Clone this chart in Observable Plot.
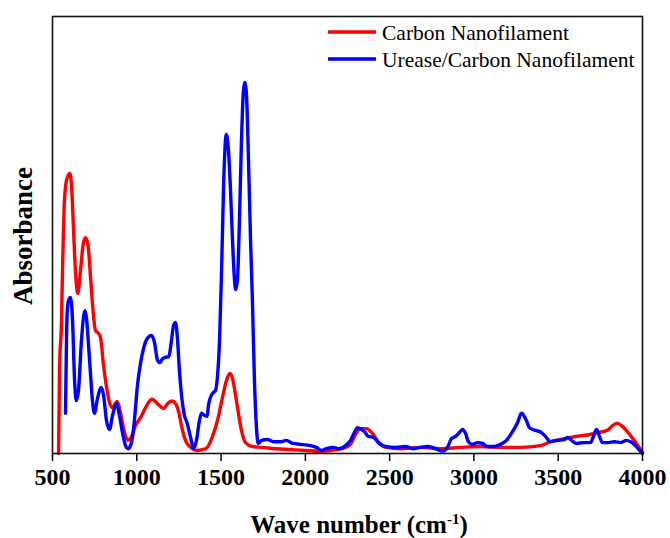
<!DOCTYPE html>
<html><head><meta charset="utf-8">
<script src="https://cdn.jsdelivr.net/npm/d3@7"></script>
<script src="https://cdn.jsdelivr.net/npm/@observablehq/plot@0.6"></script>
<style>
body{margin:0;background:#fff;}
#chart{position:relative;width:670px;height:538px;}
</style>
</head><body><div id="chart"></div>
<script>
const seriesNames = ["Carbon Nanofilament", "Urease/Carbon Nanofilament"];
const seriesColors = ["#ff0000", "#0000ff"];
const xTicks = [500, 1000, 1500, 2000, 2500, 3000, 3500, 4000];
const xLabel = "Wave number (cm";
const xLabelSup = "-1";
const yLabel = "Absorbance";

const cnfWave = [536,542,553,559,571,583,603,613,625,636,650,666,684,696,711,725,743,755,773,785,803,824,838,854,884,903,927,947,969,992,1022,1052,1091,1123,1160,1182,1210,1230,1247,1265,1289,1319,1354,1390,1418,1449,1479,1508,1532,1552,1568,1586,1603,1621,1645,1686,1746,1823,1912,2001,2078,2149,2220,2268,2297,2327,2362,2398,2434,2481,2564,2683,2802,2920,3039,3158,3276,3395,3454,3513,3602,3680,3739,3792,3822,3852,3881,3929,3964,4000];
const cnfAbs = [0,0.197,0.297,0.412,0.579,0.625,0.641,0.613,0.510,0.419,0.366,0.419,0.483,0.494,0.476,0.407,0.316,0.281,0.275,0.265,0.201,0.144,0.117,0.105,0.119,0.094,0.048,0.030,0.039,0.064,0.082,0.105,0.124,0.114,0.103,0.114,0.120,0.114,0.098,0.064,0.030,0.014,0.007,0.009,0.014,0.039,0.076,0.128,0.167,0.183,0.172,0.133,0.092,0.053,0.025,0.016,0.014,0.011,0.009,0.007,0.005,0.007,0.011,0.021,0.043,0.057,0.057,0.046,0.025,0.014,0.011,0.014,0.011,0.014,0.016,0.014,0.014,0.018,0.027,0.032,0.039,0.043,0.048,0.053,0.064,0.069,0.062,0.041,0.023,0.002];

const ureWave = [577,583,587,595,607,619,631,641,654,672,692,702,714,725,737,749,767,789,803,820,838,856,880,897,915,933,949,969,986,1004,1022,1040,1062,1087,1105,1123,1137,1153,1170,1190,1206,1218,1230,1242,1253,1269,1283,1299,1319,1338,1354,1372,1384,1402,1418,1425,1437,1455,1467,1479,1491,1503,1515,1531,1544,1556,1568,1580,1587,1597,1609,1621,1633,1641,1651,1663,1675,1686,1698,1710,1720,1740,1775,1811,1853,1888,1924,1971,2030,2066,2096,2125,2167,2197,2232,2268,2291,2309,2333,2351,2374,2404,2434,2475,2535,2594,2642,2683,2730,2772,2814,2843,2867,2891,2914,2932,2950,2967,2991,3021,3051,3080,3122,3158,3193,3229,3259,3282,3306,3330,3365,3401,3425,3454,3496,3537,3555,3579,3608,3650,3691,3709,3727,3745,3763,3798,3834,3869,3905,3929,3958,3988,4000];
const ureAbs = [0.092,0.259,0.320,0.350,0.357,0.304,0.167,0.121,0.144,0.259,0.327,0.309,0.247,0.185,0.121,0.092,0.126,0.151,0.133,0.076,0.055,0.087,0.114,0.087,0.048,0.018,0.011,0.025,0.076,0.156,0.206,0.240,0.263,0.270,0.254,0.213,0.208,0.217,0.220,0.222,0.259,0.293,0.300,0.259,0.190,0.121,0.087,0.069,0.037,0.011,0.030,0.076,0.092,0.087,0.085,0.110,0.128,0.140,0.144,0.178,0.259,0.419,0.613,0.730,0.693,0.602,0.487,0.396,0.375,0.396,0.533,0.716,0.831,0.849,0.819,0.668,0.487,0.350,0.167,0.059,0.023,0.030,0.032,0.027,0.027,0.030,0.023,0.021,0.018,0.014,0.007,0.011,0.014,0.011,0.016,0.030,0.048,0.059,0.055,0.050,0.039,0.037,0.025,0.016,0.014,0.016,0.011,0.014,0.016,0.011,0.005,0.014,0.034,0.039,0.048,0.055,0.046,0.027,0.021,0.025,0.023,0.016,0.016,0.021,0.030,0.050,0.071,0.092,0.080,0.059,0.053,0.048,0.039,0.027,0.030,0.032,0.037,0.030,0.023,0.025,0.025,0.039,0.055,0.039,0.025,0.025,0.027,0.025,0.030,0.027,0.018,0.005,0];

const cnf = cnfWave.map((w, i) => ({wave: w, abs: cnfAbs[i]}));
const ure = ureWave.map((w, i) => ({wave: w, abs: ureAbs[i]}));

const W = 670, H = 538;
const mLeft = 52, mRight = 28, mTop = 16, mBottom = 85;

const plot = Plot.plot({
  width: W, height: H,
  marginLeft: mLeft, marginRight: mRight, marginTop: mTop, marginBottom: mBottom,
  style: {fontFamily: "'Liberation Serif', 'Times New Roman', serif", fontSize: "24px", fontWeight: "bold", color: "#000", background: "#fff"},
  x: {domain: [500, 4000], ticks: xTicks, label: null},
  y: {domain: [0, 1], axis: null},
  marks: [
    Plot.line(cnf, {x: "wave", y: "abs", stroke: seriesColors[0], strokeWidth: 3.4, curve: "monotone-x"}),
    Plot.line(ure, {x: "wave", y: "abs", stroke: seriesColors[1], strokeWidth: 3.4, curve: "monotone-x"}),
    Plot.axisX({ticks: xTicks, tickSize: 8, tickPadding: 6, strokeWidth: 1.5, tickFormat: d => String(d), label: null}),
    Plot.frame({stroke: "#111", strokeWidth: 1.6})
  ]
});
document.getElementById("chart").appendChild(plot);

const svg = d3.select(plot);
// x axis title
const xt = svg.append("text")
  .attr("x", 359).attr("y", 533)
  .attr("text-anchor", "middle")
  .style("font-size", "25px").style("font-weight", "bold")
  .style("font-family", "'Liberation Serif', serif");
xt.append("tspan").text(xLabel);
xt.append("tspan").attr("dy", -9).style("font-size", "15px").text(xLabelSup);
xt.append("tspan").attr("dy", 9).text(")");

// y axis title
svg.append("text")
  .attr("transform", "translate(32,236) rotate(-90)")
  .attr("text-anchor", "middle")
  .style("font-size", "27px").style("font-weight", "bold")
  .style("font-family", "'Liberation Serif', serif")
  .text(yLabel);

// legend
const lg = svg.append("g");
seriesNames.forEach((name, i) => {
  const y = 32 + i * 27;
  lg.append("line").attr("x1", 328).attr("x2", 376).attr("y1", y).attr("y2", y)
    .attr("stroke", seriesColors[i]).attr("stroke-width", 3.4);
  lg.append("text").attr("x", 382).attr("y", y + 8)
    .attr("text-anchor", "start")
    .style("font-size", "21.5px").style("font-weight", "normal")
    .style("font-family", "'Liberation Serif', serif")
    .text(name);
});
</script>
</body></html>
